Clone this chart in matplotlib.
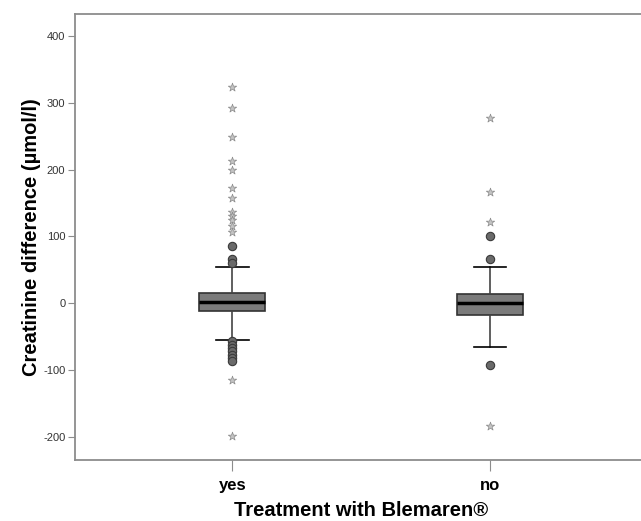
import matplotlib
matplotlib.use('Agg')
import matplotlib.pyplot as plt

plt.rcParams['font.family'] = ['Liberation Sans', 'DejaVu Sans']
plt.rcParams['axes.unicode_minus'] = False

# groups on the x axis
groups = ['yes', 'no']

# box statistics (µmol/l)
q1 = [-12, -18]
medians = [2, 1]
q3 = [16, 14]
whisker_low = [-55, -65]
whisker_high = [55, 55]

# outliers (circles) and extreme values (stars)
circles_yes = [86, 67, 61, -56, -62, -67, -72, -77, -82, -87]
stars_yes = [323, 293, 249, 213, 200, 173, 158, 136, 130, 124, 116, 106, -115, -198]
circles_no = [100, 67, -92]
stars_no = [278, 166, 121, -183]

SPINE = '#8c8c8c'

fig = plt.figure(figsize=(6.41, 5.21), dpi=100)
ax = fig.add_axes([75 / 641, 61 / 521, 1 - 75 / 641 + 0.01, 446 / 521])

stats = []
for i, g in enumerate(groups):
    stats.append({'label': g, 'med': medians[i], 'q1': q1[i], 'q3': q3[i],
                  'whislo': whisker_low[i], 'whishi': whisker_high[i], 'fliers': []})

ax.bxp(stats, positions=[1, 2], widths=0.255, showfliers=False, patch_artist=True,
       boxprops=dict(facecolor='#7b7b7b', edgecolor='#333333', lw=1.2),
       medianprops=dict(color='black', lw=2.5),
       whiskerprops=dict(color='#444444', lw=1.2),
       capprops=dict(color='black', lw=1.2),
       capwidths=0.127)

for pos, circ, star in [(1, circles_yes, stars_yes), (2, circles_no, stars_no)]:
    ax.scatter([pos] * len(circ), circ, s=36, facecolor='#6a6a6a',
               edgecolor='#3a3a3a', lw=0.8, zorder=3)
    ax.scatter([pos] * len(star), star, s=40, marker='*', facecolor='#c4c4c4',
               edgecolor='#8a8a8a', lw=0.5, zorder=3)

ax.set_xlim(0.39, 2.61)
ax.set_ylim(-234.5, 433)
ax.set_yticks([-200, -100, 0, 100, 200, 300, 400])
ax.set_xticks([1, 2])
ax.set_xticklabels(groups, fontsize=12, fontweight='bold')
ax.tick_params(axis='y', labelsize=8, colors=SPINE, labelcolor='#333333', length=5, pad=2)
ax.tick_params(axis='x', colors=SPINE, labelcolor='black', length=8, pad=5)

for s in ax.spines.values():
    s.set_color(SPINE)
    s.set_linewidth(1.3)

ax.set_ylabel('Creatinine difference (µmol/l)', fontsize=14.5, fontweight='bold', labelpad=1.5)
ax.set_xlabel('Treatment with Blemaren®', fontsize=14.5, fontweight='bold', labelpad=6)

fig.savefig('out.png', dpi=100)
